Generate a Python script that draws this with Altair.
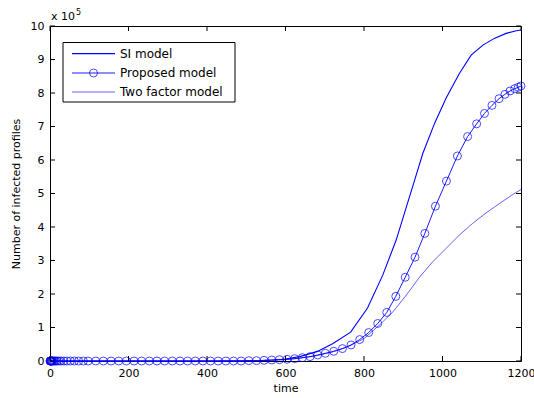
import altair as alt
import pandas as pd

# ---- data (infected profiles in units of 1e5) ----
series = ["SI model", "Proposed model", "Two factor model"]

si_time = [0, 100, 200, 300, 400, 500, 540, 570, 600, 636, 680, 721, 766, 809,
           848, 882, 908, 929, 950, 980, 1009, 1043, 1073, 1103, 1132, 1162, 1188, 1200]
si_inf = [0, 0, 0, 0, 0, 0.005, 0.01, 0.03, 0.06, 0.13, 0.28, 0.52, 0.86, 1.58,
          2.57, 3.61, 4.60, 5.40, 6.20, 7.10, 7.84, 8.58, 9.13, 9.43, 9.63, 9.78, 9.86, 9.88]

prop_time = [0, 0.5, 1, 1.6, 2.3, 3.2, 4.3, 5.6, 7.2, 9.2, 11.6, 14.5, 18, 22.5, 28,
             35, 43, 52, 62, 73, 85, 97, 116.5, 136, 155.5, 175, 194.5, 214, 233.5,
             253, 272.5, 292, 311.5, 331, 350.5, 370, 389.5, 409, 428.5, 448, 467.5,
             487, 506.5, 526, 545.5, 565, 584.5, 604, 623.5, 643, 662.5, 682, 701.5,
             723, 745, 767, 789, 812, 835, 858, 881, 905, 930, 955, 982, 1010, 1038,
             1064, 1087, 1107, 1126, 1144, 1159, 1172, 1184, 1193, 1200]
prop_inf = [0, 0, 0, 0, 0, 0, 0, 0, 0, 0, 0, 0, 0, 0, 0,
            0, 0, 0, 0, 0, 0, 0, 0, 0, 0, 0, 0, 0, 0,
            0, 0, 0, 0, 0, 0, 0, 0, 0, 0, 0, 0,
            0, 0.01, 0.01, 0.02, 0.03, 0.04, 0.05, 0.07, 0.10, 0.13, 0.18, 0.23,
            0.29, 0.37, 0.48, 0.64, 0.85, 1.12, 1.45, 1.93, 2.50, 3.10, 3.81, 4.62, 5.37, 6.12,
            6.70, 7.08, 7.39, 7.63, 7.83, 7.96, 8.06, 8.13, 8.17, 8.21]

tf_time = [0, 100, 200, 300, 400, 500, 560, 600, 640, 680, 720, 760, 800, 840, 874,
           908, 942, 975, 1009, 1043, 1077, 1111, 1145, 1179, 1200]
tf_inf = [0, 0, 0, 0, 0, 0.005, 0.02, 0.04, 0.09, 0.16, 0.27, 0.43, 0.67, 1.08, 1.47,
          1.97, 2.51, 2.96, 3.36, 3.76, 4.11, 4.42, 4.70, 4.97, 5.12]

x_ticks = [0, 200, 400, 600, 800, 1000, 1200]
y_ticks = [0, 1, 2, 3, 4, 5, 6, 7, 8, 9, 10]

si_df = pd.DataFrame({"time": si_time, "inf": si_inf})
prop_df = pd.DataFrame({"time": prop_time, "inf": prop_inf})
tf_df = pd.DataFrame({"time": tf_time, "inf": tf_inf})
xt_df = pd.DataFrame({"time": x_ticks})
yt_df = pd.DataFrame({"inf": y_ticks})

# ---- layout / style ----
W, H = 471, 335
FONT = "DejaVu Sans"
BLUE = "#0000ff"
LIGHT = "#3030ff"

xs = alt.Scale(domain=[0, 1200], nice=False, zero=False)
ys = alt.Scale(domain=[0, 10], nice=False)

x_axis = alt.Axis(values=x_ticks, format="d", title="time", ticks=False, domain=False,
                  grid=False, labelFlush=False, labelFont=FONT, labelFontSize=11,
                  labelColor="black", labelPadding=6, titleFont=FONT, titleFontSize=11,
                  titleFontWeight="normal", titleColor="black", titlePadding=4)
y_axis = alt.Axis(values=y_ticks, format="d", title="Number of infected profiles",
                  ticks=False, domain=False, grid=False, labelFlush=False,
                  labelFont=FONT, labelFontSize=11, labelColor="black", labelPadding=6,
                  titleFont=FONT, titleFontSize=11, titleFontWeight="normal",
                  titleColor="black", titlePadding=9)

X = alt.X("time:Q", scale=xs, axis=x_axis)
Y = alt.Y("inf:Q", scale=ys, axis=y_axis)

si_line = alt.Chart(si_df).mark_line(color=BLUE, strokeWidth=1.1).encode(x=X, y=Y)
tf_line = alt.Chart(tf_df).mark_line(color=LIGHT, strokeWidth=0.75).encode(x=X, y=Y)
prop_line = alt.Chart(prop_df).mark_line(color=BLUE, strokeWidth=0.9).encode(x=X, y=Y)
prop_pts = alt.Chart(prop_df).mark_point(shape="circle", filled=False, color=BLUE,
                                         size=64, strokeWidth=1).encode(x=X, y=Y)

# inward ticks on all four sides
tick_b = alt.Chart(xt_df).mark_rule(color="black").encode(x=X, y=alt.value(H), y2=alt.value(H - 5))
tick_t = alt.Chart(xt_df).mark_rule(color="black").encode(x=X, y=alt.value(0), y2=alt.value(5))
tick_l = alt.Chart(yt_df).mark_rule(color="black").encode(y=Y, x=alt.value(0), x2=alt.value(5))
tick_r = alt.Chart(yt_df).mark_rule(color="black").encode(y=Y, x=alt.value(W), x2=alt.value(W - 5))

# exponent note above the y axis
exp_base = alt.Chart(pd.DataFrame({"s": ["x 10"]})).mark_text(
    align="left", baseline="alphabetic", font=FONT, fontSize=11, color="black"
).encode(x=alt.value(1), y=alt.value(-6), text="s:N")
exp_pow = alt.Chart(pd.DataFrame({"s": ["5"]})).mark_text(
    align="left", baseline="alphabetic", font=FONT, fontSize=8, color="black"
).encode(x=alt.value(26), y=alt.value(-11), text="s:N")

# legend box
leg_box = alt.Chart(pd.DataFrame({"s": [0]})).mark_rect(
    fill="white", stroke="black", strokeWidth=1
).encode(x=alt.value(13), x2=alt.value(185), y=alt.value(16.5), y2=alt.value(76))

legend_layers = [leg_box]
row_y = [27.6, 47, 66]
row_color = [BLUE, BLUE, LIGHT]
row_width = [1.1, 0.9, 0.75]
for name, yy, col, sw in zip(series, row_y, row_color, row_width):
    d = pd.DataFrame({"s": [name]})
    legend_layers.append(
        alt.Chart(d).mark_rule(color=col, strokeWidth=sw).encode(
            x=alt.value(22), x2=alt.value(65), y=alt.value(yy))
    )
    legend_layers.append(
        alt.Chart(d).mark_text(align="left", baseline="middle", font=FONT,
                               fontSize=12, color="black").encode(
            x=alt.value(70), y=alt.value(yy), text="s:N")
    )
    if name == "Proposed model":
        legend_layers.append(
            alt.Chart(d).mark_point(shape="circle", filled=False, color=BLUE, size=64,
                                    strokeWidth=1).encode(x=alt.value(43.5), y=alt.value(yy))
        )

chart = alt.layer(
    si_line, tf_line, prop_line, prop_pts,
    tick_b, tick_t, tick_l, tick_r,
    exp_base, exp_pow,
    *legend_layers
).properties(
    width=W, height=H,
    padding={"left": 50, "top": 26, "right": 13, "bottom": 37},
    autosize=alt.AutoSizeParams(type="none"),
    background="white",
).configure_view(
    stroke="black", strokeWidth=1
)

chart.save("out.html", embed_options={"renderer": "svg", "actions": False})
